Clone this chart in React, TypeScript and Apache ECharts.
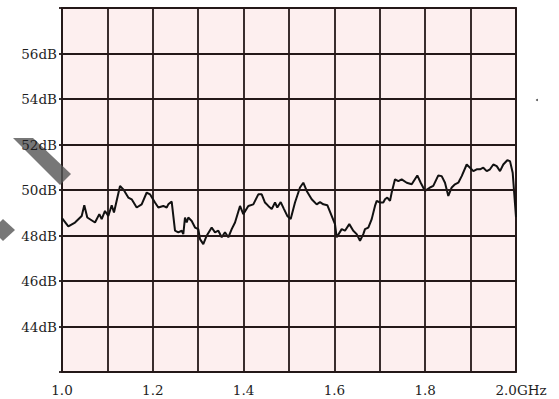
import React, { useEffect, useRef } from "react";
import * as echarts from "echarts";

const freqGHz: number[] = [
  1.0, 1.0139, 1.0286, 1.0434, 1.0491, 1.0557, 1.0727, 1.0822, 1.0874, 1.0947,
  1.102, 1.1095, 1.1145, 1.1278, 1.135, 1.146, 1.1535, 1.1645, 1.1755, 1.1866,
  1.1938, 1.2048, 1.2121, 1.2231, 1.2306, 1.2341, 1.2416, 1.2489, 1.2562, 1.2637,
  1.2672, 1.2709, 1.2747, 1.2782, 1.2857, 1.293, 1.3002, 1.304, 1.3112, 1.3187,
  1.3297, 1.337, 1.3443, 1.3518, 1.359, 1.3663, 1.3738, 1.3811, 1.3921, 1.3993,
  1.4104, 1.4214, 1.4324, 1.4399, 1.4471, 1.4544, 1.4619, 1.4692, 1.4742, 1.4817,
  1.489, 1.4962, 1.5037, 1.5132, 1.5242, 1.5315, 1.539, 1.55, 1.561, 1.5683,
  1.5756, 1.5844, 1.594, 1.6013, 1.605, 1.6161, 1.6233, 1.6328, 1.6416, 1.6491,
  1.6564, 1.6637, 1.6674, 1.6747, 1.6822, 1.6894, 1.6932, 1.7004, 1.7077, 1.7115,
  1.7165, 1.7225, 1.7262, 1.7335, 1.7408, 1.7482, 1.7593, 1.7703, 1.7826, 1.7901,
  1.7996, 1.8106, 1.8178, 1.8289, 1.8363, 1.8436, 1.8509, 1.8584, 1.8656, 1.8729,
  1.8804, 1.8914, 1.8987, 1.906, 1.9134, 1.9207, 1.928, 1.9355, 1.9427, 1.95,
  1.9575, 1.9648, 1.972, 1.9808, 1.9868, 1.9927, 2.0,
];

const levelDB: number[] = [
  48.76, 48.4, 48.57, 48.86, 49.33, 48.79, 48.57, 48.94, 48.72, 49.08,
  48.86, 49.33, 49.01, 50.18, 50.03, 49.67, 49.59, 49.23, 49.37, 49.89,
  49.81, 49.45, 49.23, 49.3, 49.23, 49.37, 49.49, 48.21, 48.14, 48.21,
  48.06, 48.79, 48.57, 48.79, 48.64, 48.35, 48.28, 47.84, 47.62, 47.99,
  48.35, 48.14, 48.21, 47.92, 48.14, 47.92, 48.28, 48.57, 49.3, 48.94,
  49.3, 49.37, 49.81, 49.81, 49.45, 49.3, 49.16, 49.45, 49.23, 49.47,
  49.16, 48.86, 48.72, 49.45, 50.11, 50.32, 49.96, 49.59, 49.37, 49.47,
  49.37, 49.33, 48.86, 48.5, 47.92, 48.28, 48.21, 48.5, 48.21, 48.06,
  47.77, 48.06, 48.28, 48.35, 48.72, 49.3, 49.52, 49.45, 49.45, 49.59,
  49.67, 49.52, 49.89, 50.47, 50.39, 50.47, 50.32, 50.25, 50.64, 50.32,
  49.96, 50.11, 50.18, 50.64, 50.61, 50.32, 49.74, 50.11, 50.25, 50.32,
  50.61, 51.12, 50.98, 50.83, 50.91, 50.91, 50.98, 50.83, 50.91, 51.12,
  51.05, 50.83, 51.12, 51.31, 51.27, 50.76, 48.81,
];

const xTickLabels: number[] = [1.0, 1.2, 1.4, 1.6, 1.8, 2.0];
const yTickLabels: number[] = [44, 46, 48, 50, 52, 54, 56];

export default function App() {
  const ref = useRef<HTMLDivElement>(null);

  useEffect(() => {
    if (!ref.current) return;
    const chart = echarts.init(ref.current, null, { renderer: "svg" });
    const gridColor = "#241818";
    const font = "DejaVu Serif";
    chart.setOption({
      animation: false,
      backgroundColor: "#ffffff",
      grid: {
        left: 62,
        right: 43,
        top: 8,
        bottom: 27,
        show: true,
        backgroundColor: "#fdefef",
        borderColor: gridColor,
        borderWidth: 1.8,
      },
      xAxis: {
        type: "value",
        min: 1.0,
        max: 2.0,
        interval: 0.1,
        axisLine: { show: false },
        axisTick: { show: false },
        splitLine: { show: true, lineStyle: { color: gridColor, width: 1.8 } },
        axisLabel: {
          margin: 11,
          fontFamily: font,
          fontSize: 13.5,
          color: "#1e1e1e",
          formatter: (v: number) => {
            const hit = xTickLabels.find((t) => Math.abs(t - v) < 1e-6);
            if (hit === undefined) return "";
            if (Math.abs(hit - 2.0) < 1e-6) return "{g|" + hit.toFixed(1) + "GHz}";
            return hit.toFixed(1);
          },
          rich: {
            g: { fontFamily: font, fontSize: 13.5, color: "#1e1e1e", padding: [0, 0, 8, 10] },
          },
        },
      },
      yAxis: {
        type: "value",
        min: 42,
        max: 58,
        interval: 2,
        z: 10,
        axisLine: { show: false },
        axisTick: { show: true, length: 3, lineStyle: { color: gridColor, width: 1.8 } },
        splitLine: { show: true, lineStyle: { color: gridColor, width: 1.8 } },
        axisLabel: {
          margin: 5,
          fontFamily: font,
          fontSize: 13.5,
          color: "#1e1e1e",
          formatter: (v: number) => (yTickLabels.includes(v) ? v + "dB" : ""),
        },
      },
      series: [
        {
          type: "line",
          data: freqGHz.map((f, i) => [f, levelDB[i]]),
          showSymbol: false,
          lineStyle: { color: "#111", width: 2 },
          z: 5,
        },
      ],
      graphic: [
        {
          type: "polygon",
          z: 3,
          shape: { points: [[13, 138], [33, 138], [71, 174], [60, 185]] },
          style: { fill: "rgba(85,85,85,0.8)" },
        },
        {
          type: "polygon",
          z: 3,
          shape: { points: [[3, 219], [15, 230], [3, 241], [0, 238], [0, 222]] },
          style: { fill: "rgba(85,85,85,0.8)" },
        },
        {
          type: "circle",
          z: 3,
          shape: { cx: 537, cy: 100, r: 1 },
          style: { fill: "#555" },
        },
      ],
    });
    return () => chart.dispose();
  }, []);

  return (
    <div
      ref={ref}
      style={{ position: "fixed", left: 0, top: 0, width: 559, height: 399, background: "#fff" }}
    />
  );
}
